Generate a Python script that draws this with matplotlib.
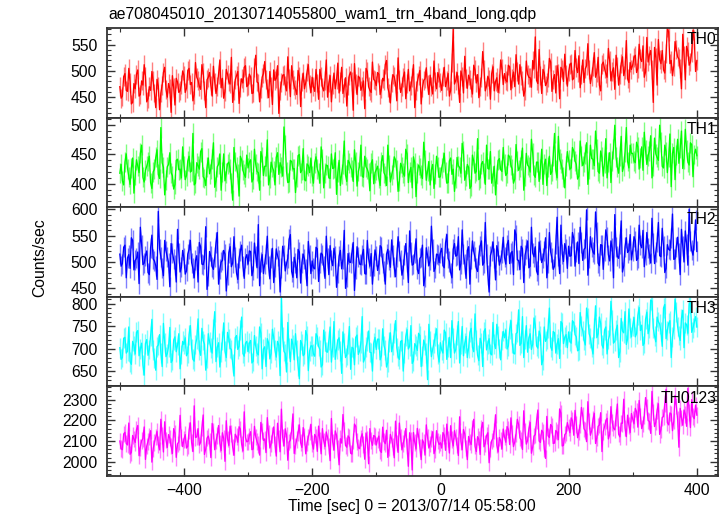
import numpy as np
import matplotlib
matplotlib.use("Agg")
import matplotlib.pyplot as plt
from matplotlib.ticker import MultipleLocator

plt.rcParams['font.family'] = ['Liberation Sans', 'DejaVu Sans']

title = "ae708045010_20130714055800_wam1_trn_4band_long.qdp"
xlabel = "Time [sec] 0 = 2013/07/14 05:58:00"
ylabel = "Counts/sec"

# bins: series "a" at t = -500, -496, ..., 400 ; series "b" at t = -498, -494, ..., 398
t_start, t_step, t_offset_b = -500, 4, 2

th0_a = [470, 452, 495, 461, 478, 440, 466, 502, 455, 473, 489, 447, 463, 481, 430, 471, 458, 497, 465, 476, 421, 468, 486, 459, 474,
         492, 467, 505, 478, 455, 488, 471, 512, 463, 483, 497, 452, 479, 470, 521, 486, 461, 494, 475, 440, 483, 499, 468, 477, 510,
         473, 489, 458, 530, 477, 466, 495, 483, 449, 471, 502, 486, 419, 478, 493, 462, 485, 510, 472, 455, 490, 479, 466, 498, 475,
         488, 461, 477, 503, 469, 482, 450, 491, 474, 466, 515, 480, 457, 487, 472, 498, 425, 476, 490, 463, 481, 505, 470, 459, 484,
         472, 494, 466, 481, 520, 458, 477, 489, 443, 483, 470, 498, 476, 462, 487, 430, 479, 501, 468, 485, 474, 492, 456, 480, 497,
         478, 489, 470, 495, 463, 580, 482, 474, 500, 458, 486, 492, 469, 511, 477, 449, 488, 503, 471, 483, 495, 462, 487, 476, 505,
         495, 479, 508, 486, 470, 499, 512, 481, 463, 494, 487, 520, 565, 476, 491, 503, 472, 488, 517, 484, 458, 496, 507, 480, 493,
         498, 515, 486, 507, 529, 493, 478, 510, 502, 490, 535, 497, 473, 512, 505, 488, 520, 499, 465, 508, 494, 527, 503, 485, 516,
         512, 530, 505, 523, 548, 498, 517, 539, 440, 526, 560, 514, 502, 533, 575, 520, 509, 541, 523, 466, 529, 547, 511, 535, 560,
         520]
th0_b = [448, 489, 463, 505, 437, 476, 494, 452, 481, 512, 441, 470, 499, 458, 484, 426, 473, 507, 450, 466, 491, 435, 479, 462, 500,
         459, 501, 474, 443, 516, 482, 465, 497, 430, 488, 472, 509, 457, 494, 468, 448, 503, 479, 526, 462, 491, 438, 485, 507, 470,
         494, 457, 506, 479, 441, 488, 518, 467, 499, 436, 482, 510, 463, 492, 473, 527, 451, 484, 465, 501, 432, 496, 478, 512, 459,
         470, 503, 446, 489, 462, 521, 477, 441, 496, 483, 458, 507, 469, 433, 492, 480, 514, 455, 487, 470, 428, 499, 463, 517, 481,
         497, 455, 486, 512, 468, 439, 493, 476, 525, 459, 488, 447, 503, 472, 512, 463, 491, 437, 482, 506, 455, 471, 519, 466, 488,
         463, 507, 481, 452, 516, 475, 497, 440, 489, 528, 467, 484, 456, 502, 493, 471, 537, 462, 490, 446, 508, 480, 459, 521, 474,
         482, 511, 464, 498, 531, 475, 492, 452, 519, 488, 469, 504, 482, 541, 457, 496, 478, 524, 461, 493, 510, 447, 503, 532, 471,
         512, 483, 539, 497, 468, 521, 504, 552, 476, 509, 488, 526, 462, 517, 495, 543, 481, 506, 530, 473, 514, 491, 558, 478, 503,
         526, 497, 551, 518, 488, 564, 530, 502, 545, 473, 522, 539, 496, 582, 514, 491, 556, 527, 505, 570, 483, 538, 517, 578, 499]

th1_a = [418, 405, 437, 426, 399, 444, 415, 430, 452, 411, 423, 438, 402, 420, 445, 416, 496, 428, 407, 433, 419, 391, 440, 424, 410,
         431, 414, 447, 422, 398, 436, 425, 460, 409, 428, 417, 443, 394, 429, 451, 420, 405, 434, 426, 372, 438, 416, 447, 423, 411,
         427, 441, 408, 433, 419, 455, 414, 430, 398, 437, 422, 445, 416, 429, 497, 421, 403, 438, 426, 412, 450, 423, 407, 434, 419,
         414, 436, 425, 401, 442, 418, 431, 409, 426, 453, 420, 397, 433, 415, 440, 428, 404, 437, 421, 466, 411, 429, 418, 435, 400,
         424, 410, 438, 419, 397, 432, 415, 446, 423, 405, 429, 413, 451, 420, 393, 436, 418, 427, 409, 441, 422, 398, 433, 416, 429,
         412, 437, 420, 402, 444, 425, 409, 431, 418, 456, 414, 428, 396, 439, 421, 407, 434, 419, 466, 425, 401, 430, 417, 443, 421,
         433, 418, 446, 425, 408, 439, 428, 461, 414, 432, 420, 452, 411, 437, 426, 399, 442, 429, 416, 448, 423, 481, 435, 412, 430,
         441, 427, 456, 433, 413, 448, 437, 470, 425, 443, 431, 460, 418, 445, 436, 410, 453, 439, 500, 429, 447, 421, 455, 438, 466,
         452, 436, 463, 444, 423, 457, 448, 482, 431, 451, 440, 471, 427, 455, 446, 395, 462, 449, 435, 490, 443, 458, 432, 467, 450,
         448]
th1_b = [433, 398, 451, 412, 427, 384, 441, 419, 466, 403, 430, 447, 392, 425, 458, 409, 436, 381, 429, 453, 414, 399, 442, 425, 463,
         407, 439, 420, 486, 401, 431, 455, 412, 397, 444, 426, 470, 405, 433, 389, 451, 418, 437, 402, 462, 428, 379, 441, 416, 449,
         437, 403, 459, 421, 389, 446, 430, 475, 410, 428, 398, 453, 436, 413, 467, 402, 440, 425, 385, 448, 419, 460, 405, 431, 444,
         401, 446, 419, 463, 393, 432, 410, 451, 427, 382, 440, 417, 473, 404, 436, 423, 458, 396, 430, 413, 447, 425, 388, 441, 419,
         430, 397, 448, 414, 466, 403, 425, 441, 387, 435, 418, 459, 402, 428, 446, 378, 432, 415, 471, 406, 438, 424, 392, 447, 411,
         427, 452, 401, 439, 416, 387, 445, 428, 469, 406, 433, 392, 449, 418, 477, 410, 438, 399, 426, 455, 413, 381, 440, 424, 462,
         414, 449, 432, 401, 467, 423, 441, 389, 452, 429, 476, 415, 437, 404, 459, 433, 397, 447, 421, 486, 410, 442, 426, 393, 455,
         425, 462, 439, 408, 473, 431, 451, 399, 466, 442, 490, 421, 456, 413, 477, 437, 402, 460, 445, 418, 481, 430, 496, 427, 452,
         439, 471, 425, 463, 488, 433, 456, 410, 478, 445, 500, 430, 466, 419, 485, 452, 407, 476, 461, 426, 493, 437, 470, 412, 459]

th2_a = [515, 497, 532, 508, 488, 541, 503, 519, 566, 495, 512, 480, 527, 506, 493, 596, 510, 474, 521, 499, 535, 505, 462, 518, 490,
         508, 483, 524, 499, 470, 512, 537, 496, 505, 448, 520, 491, 509, 556, 487, 503, 515, 476, 529, 498, 510, 467, 521, 493, 507,
         496, 520, 485, 511, 571, 500, 478, 516, 492, 507, 461, 525, 503, 488, 514, 497, 543, 482, 509, 470, 519, 499, 506, 455, 513,
         502, 487, 525, 498, 514, 469, 508, 531, 493, 511, 480, 522, 505, 450, 516, 499, 537, 486, 510, 495, 524, 477, 507, 516, 492,
         511, 496, 528, 483, 515, 504, 542, 490, 509, 521, 475, 513, 500, 559, 494, 517, 486, 507, 532, 471, 512, 503, 525, 489, 514,
         518, 493, 536, 507, 480, 524, 511, 548, 497, 515, 469, 529, 505, 520, 488, 513, 540, 499, 516, 443, 521, 508, 531, 494, 517,
         509, 533, 497, 520, 561, 504, 486, 525, 513, 540, 492, 517, 529, 476, 522, 507, 546, 498, 519, 486, 534, 511, 570, 501, 524,
         530, 512, 545, 519, 497, 537, 524, 599, 508, 528, 515, 556, 493, 532, 520, 547, 502, 526, 590, 511, 535, 481, 529, 518, 552,
         521, 540, 507, 533, 560, 514, 527, 498, 536, 519, 575, 510, 531, 488, 524, 546, 505, 529, 517, 562, 500, 535, 600, 522, 541,
         520]
th2_b = [492, 528, 470, 514, 546, 485, 507, 459, 533, 498, 521, 476, 551, 502, 467, 525, 489, 541, 510, 453, 518, 494, 562, 481, 522,
         477, 515, 541, 488, 503, 462, 529, 495, 567, 474, 511, 486, 537, 458, 500, 522, 445, 518, 491, 548, 479, 507, 532, 469, 514,
         521, 474, 536, 489, 455, 514, 497, 549, 468, 526, 491, 512, 443, 530, 483, 507, 552, 471, 498, 524, 460, 515, 486, 539, 478,
         489, 528, 463, 517, 492, 549, 476, 504, 526, 452, 511, 487, 560, 471, 500, 518, 446, 529, 496, 513, 478, 541, 492, 458, 523,
         484, 531, 499, 458, 524, 490, 514, 472, 548, 503, 487, 535, 461, 519, 496, 544, 478, 510, 455, 527, 493, 568, 482, 515, 499,
         526, 489, 552, 501, 470, 535, 513, 485, 561, 497, 522, 458, 540, 509, 482, 530, 494, 575, 476, 512, 538, 466, 520, 504, 547,
         496, 541, 517, 476, 552, 503, 530, 461, 524, 489, 566, 510, 483, 538, 499, 521, 470, 556, 507, 492, 585, 478, 516, 535, 488,
         511, 556, 492, 538, 566, 503, 527, 475, 548, 519, 595, 498, 533, 486, 561, 514, 540, 470, 529, 507, 578, 493, 546, 522, 504,
         548, 503, 570, 527, 491, 556, 515, 583, 497, 538, 512, 564, 480, 533, 522, 591, 506, 547, 476, 531, 559, 494, 540, 513, 580]

th3_a = [702, 680, 725, 694, 671, 716, 688, 740, 699, 663, 711, 685, 728, 697, 652, 708, 690, 756, 682, 704, 669, 719, 693, 733, 687,
         709, 684, 731, 700, 672, 722, 696, 745, 710, 678, 715, 690, 782, 703, 659, 718, 694, 736, 701, 667, 724, 698, 741, 689, 712,
         693, 718, 672, 705, 686, 734, 699, 660, 713, 689, 725, 681, 707, 814, 694, 648, 702, 721, 675, 697, 633, 710, 688, 729, 695,
         706, 683, 727, 698, 664, 716, 692, 748, 703, 676, 719, 695, 737, 680, 709, 654, 701, 725, 687, 713, 670, 704, 739, 691, 712,
         698, 721, 684, 707, 659, 715, 693, 735, 702, 676, 718, 690, 742, 705, 667, 711, 696, 729, 683, 708, 631, 716, 699, 727, 688,
         713, 690, 735, 704, 680, 724, 698, 760, 709, 684, 727, 701, 745, 693, 719, 673, 712, 738, 697, 722, 686, 711, 754, 700, 718,
         724, 699, 743, 713, 688, 736, 707, 771, 720, 692, 733, 710, 752, 701, 729, 675, 716, 745, 704, 738, 690, 722, 760, 711, 731,
         737, 712, 758, 726, 697, 750, 719, 790, 733, 703, 746, 724, 770, 708, 741, 688, 730, 763, 716, 752, 693, 739, 782, 721, 745,
         751, 726, 774, 740, 707, 765, 733, 808, 746, 715, 760, 738, 790, 722, 756, 680, 744, 781, 729, 767, 702, 753, 800, 736, 759,
         748]
th3_b = [676, 723, 690, 748, 665, 707, 736, 684, 712, 641, 720, 698, 765, 679, 704, 731, 660, 713, 689, 747, 674, 726, 708, 655, 716,
         724, 690, 751, 676, 709, 766, 685, 718, 652, 733, 701, 744, 671, 713, 692, 757, 680, 722, 698, 639, 729, 705, 770, 683, 716,
         712, 668, 729, 690, 748, 655, 704, 722, 677, 743, 696, 716, 640, 725, 689, 758, 671, 709, 733, 662, 718, 684, 740, 651, 706,
         688, 733, 705, 659, 741, 693, 718, 670, 760, 699, 724, 645, 712, 686, 749, 703, 664, 730, 695, 771, 678, 716, 692, 650, 725,
         721, 675, 744, 696, 669, 735, 708, 762, 683, 716, 650, 727, 699, 751, 673, 706, 734, 660, 719, 691, 754, 682, 712, 744, 670,
         697, 741, 676, 725, 762, 690, 731, 668, 749, 712, 680, 736, 703, 777, 685, 723, 660, 744, 711, 689, 758, 700, 729, 675, 738,
         741, 706, 762, 690, 733, 786, 712, 680, 751, 724, 698, 768, 706, 739, 664, 748, 722, 790, 696, 735, 710, 678, 756, 725, 702,
         716, 762, 731, 695, 780, 740, 708, 769, 724, 688, 795, 733, 756, 701, 748, 720, 805, 712, 741, 680, 767, 735, 709, 788, 726,
         769, 733, 791, 752, 712, 781, 745, 806, 728, 770, 754, 705, 798, 740, 762, 725, 810, 749, 718, 785, 757, 734, 802, 746, 771]

th0123_a = [2100, 2058, 2142, 2081, 2036, 2127, 2093, 2175, 2070, 2112, 2011, 2098, 2150, 2063, 2119, 2084, 2205, 2047, 2106, 2131, 2075, 2160, 2021, 2096, 2118,
            2108, 2066, 2151, 2092, 2270, 2120, 2080, 2163, 2035, 2114, 2097, 2185, 2058, 2126, 2089, 2140, 2002, 2110, 2172, 2071, 2133, 2094, 2158, 2052, 2117,
            2099, 2145, 2061, 2120, 2082, 2190, 2103, 2044, 2137, 2088, 2168, 2027, 2112, 2254, 2076, 2129, 2095, 2152, 2040, 2108, 2178, 2069, 2123, 2091, 2143,
            2087, 2132, 2050, 2104, 2160, 2073, 2118, 2005, 2096, 2149, 2064, 2111, 2228, 2079, 2125, 2041, 2100, 2171, 2068, 2115, 2084, 2139, 1990, 2102, 2127,
            2081, 2124, 2045, 2098, 2152, 2066, 2109, 2019, 2090, 2187, 2057, 2113, 2075, 2140, 1960, 2094, 2161, 2070, 2106, 2032, 2118, 2085, 2145, 2059, 2101,
            2092, 2141, 2055, 2110, 2174, 2076, 2119, 2030, 2098, 2156, 2067, 2122, 2083, 2205, 2049, 2108, 2163, 2072, 2126, 1995, 2101, 2149, 2080, 2117, 2061,
            2120, 2170, 2083, 2137, 2096, 2205, 2115, 2059, 2148, 2102, 2190, 2071, 2131, 2250, 2093, 2142, 2016, 2125, 2180, 2088, 2151, 2107, 2235, 2079, 2138,
            2165, 2212, 2128, 2181, 2143, 2262, 2159, 2097, 2196, 2150, 2234, 2115, 2177, 2049, 2168, 2210, 2131, 2190, 2154, 2279, 2120, 2186, 2163, 2225, 2141,
            2205, 2258, 2167, 2222, 2183, 2310, 2199, 2137, 2240, 2191, 2280, 2156, 2218, 2350, 2178, 2231, 2196, 2269, 2070, 2212, 2250, 2171, 2239, 2300, 2208,
            2225]
th0123_b = [2063, 2134, 2088, 2187, 2045, 2110, 2155, 2029, 2102, 2168, 2076, 2121, 1998, 2093, 2146, 2057, 2128, 2193, 2069, 2114, 2040, 2138, 2086, 2224, 2073,
            2131, 2075, 2188, 2049, 2117, 2160, 2093, 2226, 2062, 2124, 2020, 2148, 2101, 2175, 2054, 2112, 2198, 2079, 2136, 2031, 2121, 2169, 2085, 2241, 2096,
            2125, 2058, 2171, 2097, 2032, 2149, 2110, 2213, 2066, 2130, 2085, 2186, 2048, 2118, 2159, 2007, 2104, 2231, 2077, 2140, 2092, 2165, 2038, 2119, 2181,
            2061, 2119, 2172, 2038, 2101, 2144, 2075, 2209, 2056, 2128, 1985, 2090, 2153, 2070, 2116, 2037, 2182, 2098, 2063, 2135, 2012, 2107, 2160, 2079, 2122,
            2108, 2053, 2167, 2087, 2021, 2132, 2074, 2196, 2045, 2116, 2089, 2160, 1978, 2104, 2141, 2061, 2124, 2010, 2092, 2178, 2066, 2112, 2039, 2150, 2083,
            2066, 2128, 2182, 2042, 2107, 2150, 2081, 2217, 2058, 2134, 2010, 2096, 2164, 2075, 2121, 2035, 2190, 2089, 2140, 2062, 2113, 2227, 2047, 2102, 2158,
            2094, 2156, 2212, 2073, 2137, 2180, 2105, 2246, 2085, 2160, 2041, 2124, 2197, 2100, 2152, 2064, 2219, 2117, 2171, 2090, 2143, 2255, 2076, 2131, 2189,
            2140, 2198, 2248, 2116, 2180, 2223, 2150, 2290, 2128, 2205, 2088, 2171, 2237, 2145, 2196, 2110, 2266, 2162, 2214, 2133, 2187, 2302, 2121, 2176, 2233,
            2183, 2242, 2296, 2160, 2221, 2264, 2195, 2340, 2170, 2248, 2132, 2214, 2281, 2189, 2236, 2150, 2320, 2206, 2258, 2176, 2229, 2355, 2165, 2218, 2274]

band_names = ["TH0", "TH1", "TH2", "TH3", "TH0123"]
band_a = [th0_a, th1_a, th2_a, th3_a, th0123_a]
band_b = [th0_b, th1_b, th2_b, th3_b, th0123_b]
band_errors = [18, 17, 19, 22, 40]
band_colors = ["#ff0000", "#00ff00", "#0000ff", "#00ffff", "#ff00ff"]
y_limits = [(411, 582), (360, 513), (434, 604), (616, 815), (1931, 2364)]
y_major = [50, 50, 50, 50, 100]
y_minor = [10, 10, 10, 10, 20]
x_limits = (-520, 433)

fig = plt.figure(figsize=(7.23, 5.16), dpi=100)
left, right = 107 / 723, 718 / 723
top_px, bot_px = 28, 476
h = (bot_px - top_px) / 5 / 516

spine_color = "#333333"
for i, (name, va_, vb_, err, col, ylim, ymaj, ymin) in enumerate(
        zip(band_names, band_a, band_b, band_errors, band_colors, y_limits, y_major, y_minor)):
    bottom = 1 - (top_px / 516) - (i + 1) * h
    ax = fig.add_axes([left, bottom, right - left, h])
    ta = t_start + t_step * np.arange(len(va_))
    tb = t_start + t_offset_b + t_step * np.arange(len(vb_))
    t = np.concatenate([ta, tb])
    v = np.concatenate([np.asarray(va_, float), np.asarray(vb_, float)])
    order = np.argsort(t)
    t, v = t[order], v[order]
    ax.vlines(t, v - err, v + err, color=col, alpha=0.5, lw=1.0)
    ax.plot(t, v, color=col, lw=0.95)
    ax.set_xlim(*x_limits)
    ax.set_ylim(*ylim)
    ax.xaxis.set_major_locator(MultipleLocator(200))
    ax.xaxis.set_minor_locator(MultipleLocator(100))
    ax.yaxis.set_major_locator(MultipleLocator(ymaj))
    ax.yaxis.set_minor_locator(MultipleLocator(ymin))
    ax.tick_params(which='both', direction='in', top=True, right=True,
                   labelsize=11.3, color=spine_color)
    ax.tick_params(which='major', length=6, width=1.0)
    ax.tick_params(which='minor', length=3, width=0.8)
    ax.tick_params(axis='y', pad=7)
    ax.tick_params(axis='x', pad=5)
    for s in ax.spines.values():
        s.set_color(spine_color)
        s.set_linewidth(1.3)
    if i < 4:
        ax.tick_params(axis='x', labelbottom=False)
    ax.text(0.997, 0.95, name, transform=ax.transAxes, ha='right', va='top',
            fontsize=11.3, color='black')

fig.text(108 / 723, 1 - 14 / 516, title, ha='left', va='center', fontsize=11.3)
fig.text(412 / 723, 1 - 507 / 516, xlabel, ha='center', va='center', fontsize=11.3)
fig.text(40 / 723, 0.5, ylabel, ha='center', va='center', rotation=90, fontsize=11.3)

fig.savefig("out.png", dpi=100)
